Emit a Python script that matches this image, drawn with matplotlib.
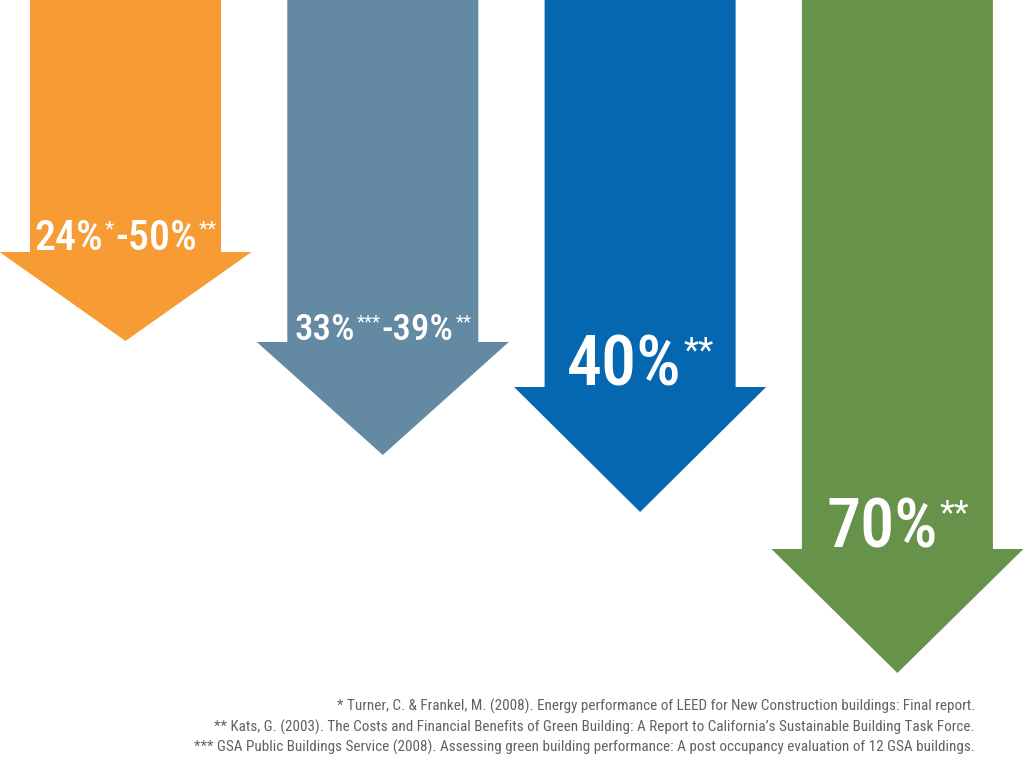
#!/usr/bin/env python3
# coding: utf-8

import matplotlib
matplotlib.use('Agg')
import matplotlib.pyplot as plt
from matplotlib import font_manager
from matplotlib.patches import Polygon

# arrow data (depth of tip and head length, in picture pixels)
colors = ['#F79C34', '#6389A3', '#0567B0', '#679249']
tip_depth = [341, 455, 512, 673]
head_len = [89, 113, 125, 124]
# label pieces: (text, is superscript)
labels = [
    [('24%', False), ('*', True), ('-50%', False), ('**', True)],
    [('33%', False), ('***', True), ('-39%', False), ('**', True)],
    [('40%', False), ('**', True)],
    [('70%', False), ('**', True)],
]
label_width = [182, 176, 147, 143]

notes = [
    '* Turner, C. & Frankel, M. (2008). Energy performance of LEED for New Construction buildings: Final report.',
    '** Kats, G. (2003). The Costs and Financial Benefits of Green Building: A Report to California\u2019s Sustainable Building Task Force.',
    '*** GSA Public Buildings Service (2008). Assessing green building performance: A post occupancy evaluation of 12 GSA buildings.',
]
note_left = [338, 287, 196]

# pick a condensed font if there is one
names = {f.name for f in font_manager.fontManager.ttflist}
FONT = 'DejaVu Sans'
for cand in ['Roboto Condensed', 'Liberation Sans Narrow', 'Open Sans Condensed', 'DejaVu Sans Condensed']:
    if cand in names:
        FONT = cand
        break
STRETCH = 'condensed'

W, H = 1024, 769
fig = plt.figure(figsize=(W / 100, H / 100), dpi=100)
ax = fig.add_axes([0, 0, 1, 1])
ax.set_xlim(0, W)
ax.set_ylim(H, 0)
ax.axis('off')
renderer = fig.canvas.get_renderer()

shaft_w = 191
head_w = 252
x0 = 125.5
step = 257.3
SUP = 0.5
GAP = 1.5


def text_w(s, size, weight='normal'):
    t = ax.text(0, 0, s, fontsize=size, family=FONT, fontstretch=STRETCH, weight=weight)
    w = t.get_window_extent(renderer).width
    t.remove()
    return w


def put_label(cx, base, parts, width):
    # size so the whole label has the target width
    def wt(sup):
        return 'normal' if sup else 'medium'

    def total(size):
        return sum(text_w(s, size * SUP if sup else size, wt(sup)) for s, sup in parts) + GAP * (len(parts) - 1)
    size = 30 * width / total(30)
    x = cx - total(size) / 2
    cap = 0.71 * size * 100 / 72
    for s, sup in parts:
        fs = size * SUP if sup else size
        y = base - cap if sup else base
        va = 'top' if sup else 'baseline'
        ax.text(x, y, s, fontsize=fs, color='white', family=FONT, fontstretch=STRETCH,
                weight=wt(sup), va=va, ha='left')
        x += text_w(s, fs, wt(sup)) + GAP


for i in range(4):
    cx = x0 + i * step
    tip = tip_depth[i]
    sh = tip - head_len[i]
    pts = [(cx - shaft_w / 2, 0), (cx + shaft_w / 2, 0), (cx + shaft_w / 2, sh),
           (cx + head_w / 2, sh), (cx, tip), (cx - head_w / 2, sh), (cx - shaft_w / 2, sh)]
    ax.add_patch(Polygon(pts, closed=True, facecolor=colors[i], edgecolor='none'))
    put_label(cx, sh - 2, labels[i], label_width[i])

# footnotes, right aligned
right = 975
wref = text_w(notes[2], 11)
fsize = 11 * (right - note_left[2]) / wref
for k, s in enumerate(notes):
    ax.text(right, 711 + k * 20.5, s, fontsize=fsize, color='#626262', family=FONT,
            fontstretch=STRETCH, ha='right', va='baseline')

fig.savefig('out.png', dpi=100)
